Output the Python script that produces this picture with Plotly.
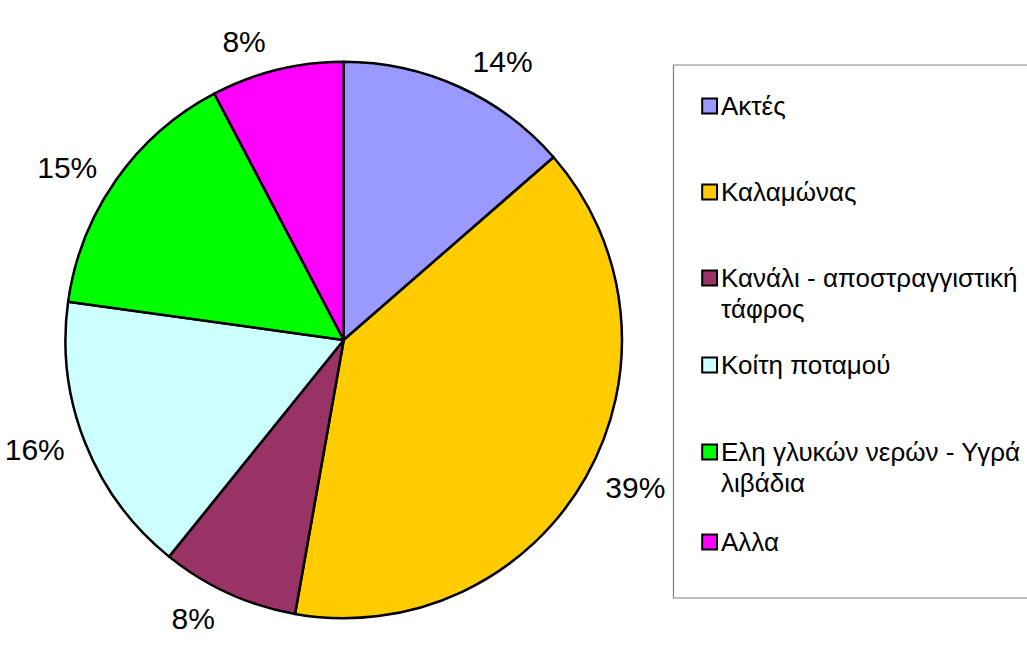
import plotly.graph_objects as go

categories = ["Ακτές", "Καλαμώνας", "Κανάλι - αποστραγγιστική<br>τάφρος",
              "Κοίτη ποταμού", "Ελη γλυκών νερών - Υγρά<br>λιβάδια", "Αλλα"]
values = [13.6, 39.2, 8.0, 16.4, 15.1, 7.7]
colors = ["#9999FF", "#FFCC00", "#993366", "#CCFFFF", "#00FF00", "#FF00FF"]

W, H = 1027, 648


def px(x):
    return x / W


def py(y):
    return 1 - y / H


cx, cy, r = 337, 340, 281
r_text = r + 13  # percentage labels sit a little further out than the rim

FONT = "Liberation Sans, Arial"

# carrier pie (invisible) that only places the percentage labels
label_pie = go.Pie(
    labels=categories, values=values, sort=False, direction="clockwise", rotation=0,
    marker=dict(colors=["rgba(0,0,0,0)"] * len(values), line=dict(width=0)),
    texttemplate="%{percent:.0%}", textposition="outside",
    outsidetextfont=dict(size=30, color="black", family=FONT),
    domain=dict(x=[px(cx - r_text), px(cx + r_text)], y=[py(cy + r_text), py(cy - r_text)]),
    hoverinfo="skip", showlegend=False,
)

main_pie = go.Pie(
    labels=categories, values=values, sort=False, direction="clockwise", rotation=0,
    marker=dict(colors=colors, line=dict(color="black", width=2.5)),
    textinfo="none",
    domain=dict(x=[px(cx - r), px(cx + r)], y=[py(cy + r), py(cy - r)]),
    hoverinfo="label+percent", showlegend=False,
)

fig = go.Figure([label_pie, main_pie])

# legend drawn as a framed list of colour keys
shapes = [dict(type="rect", xref="paper", yref="paper",
               x0=px(670), x1=px(1060), y0=py(598), y1=py(65),
               line=dict(color="#808080", width=1.2), fillcolor="white", layer="below")]
annotations = []
item_y = [106, 192, 278, 365, 452, 542]
line_gap = 31
for cat, col, yc in zip(categories, colors, item_y):
    shapes.append(dict(type="rect", xref="paper", yref="paper",
                       x0=px(699), x1=px(714), y0=py(yc + 7.5), y1=py(yc - 7.5),
                       line=dict(color="black", width=2), fillcolor=col))
    for k, part in enumerate(cat.split("<br>")):
        annotations.append(dict(xref="paper", yref="paper", x=px(716), y=py(yc + k * line_gap),
                                xanchor="left", yanchor="middle", align="left",
                                text=part, showarrow=False,
                                font=dict(size=26, color="black", family=FONT)))

fig.update_layout(
    width=W, height=H,
    margin=dict(l=0, r=0, t=0, b=0),
    paper_bgcolor="white",
    plot_bgcolor="white",
    font=dict(family=FONT, color="black"),
    shapes=shapes,
    annotations=annotations,
)

fig.write_html(
    "out.html",
    config={"displayModeBar": False},
    post_script="document.body.style.margin='0';document.body.style.overflow='hidden';",
)
